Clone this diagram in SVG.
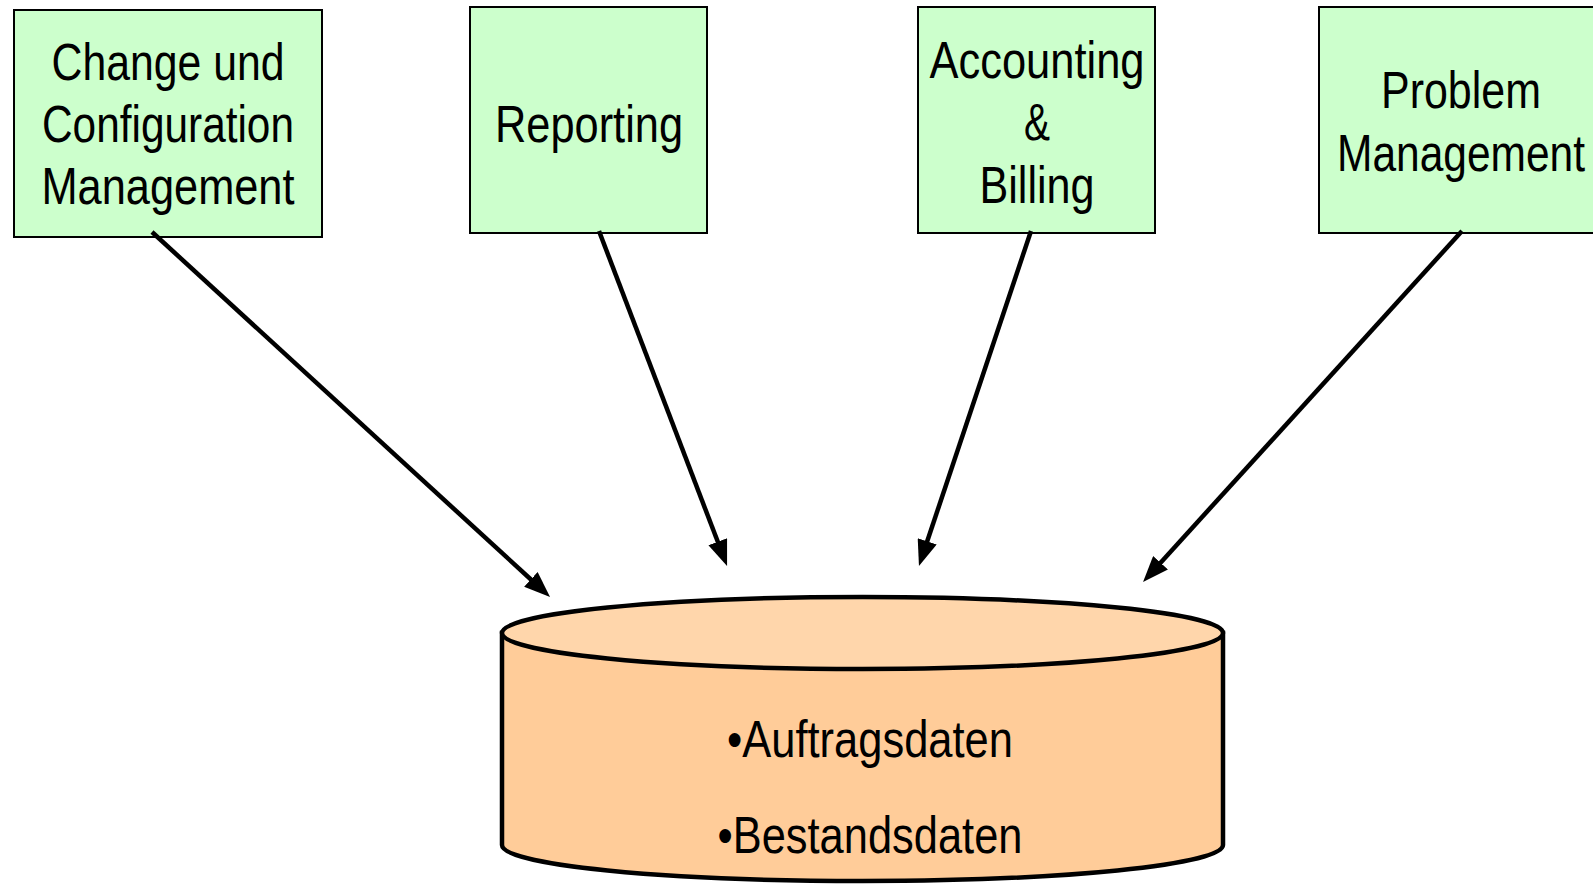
<svg xmlns="http://www.w3.org/2000/svg" width="1593" height="887" viewBox="0 0 1593 887">
<style>
.box{fill:#CCFFCC;stroke:#000;stroke-width:2}
.t{font-family:"Liberation Sans",Arial,sans-serif;font-size:52px;fill:#000;text-anchor:middle}
.conn{stroke:#000;stroke-width:4.5;fill:none;marker-end:url(#ah)}
.cyl{stroke:#000;stroke-width:4.5}
</style>
<defs>
<marker id="ah" markerUnits="userSpaceOnUse" markerWidth="26" markerHeight="20" refX="6" refY="10" orient="auto" viewBox="0 0 26 20">
<path d="M0,0 L26,10 L0,20 z" fill="#000"/>
</marker>
</defs>
<rect width="1593" height="887" fill="#fff"/>
<g id="node-change">
<rect class="box" x="14" y="10" width="308" height="227"/>
<text class="t" x="168" y="80" textLength="233" lengthAdjust="spacingAndGlyphs">Change und</text>
<text class="t" x="168" y="142" textLength="252" lengthAdjust="spacingAndGlyphs">Configuration</text>
<text class="t" x="168" y="204" textLength="253" lengthAdjust="spacingAndGlyphs">Management</text>
</g>
<g id="node-reporting">
<rect class="box" x="470" y="7" width="237" height="226"/>
<text class="t" x="589" y="142" textLength="188" lengthAdjust="spacingAndGlyphs">Reporting</text>
</g>
<g id="node-accounting">
<rect class="box" x="918" y="7" width="237" height="226"/>
<text class="t" x="1037" y="78" textLength="215" lengthAdjust="spacingAndGlyphs">Accounting</text>
<text class="t" x="1037" y="140" textLength="26" lengthAdjust="spacingAndGlyphs">&amp;</text>
<text class="t" x="1037" y="203" textLength="115" lengthAdjust="spacingAndGlyphs">Billing</text>
</g>
<g id="node-problem">
<rect class="box" x="1319" y="7" width="300" height="226"/>
<text class="t" x="1461" y="108" textLength="160" lengthAdjust="spacingAndGlyphs">Problem</text>
<text class="t" x="1461" y="171" textLength="248" lengthAdjust="spacingAndGlyphs">Management</text>
</g>
<g id="node-db">
<path class="cyl" fill="#FFCC99" d="M502,633 L502,845 A360.5,36 0 0 0 1223,845 L1223,633 Z"/>
<ellipse class="cyl" fill="#FFD6AB" cx="862.5" cy="633" rx="360.5" ry="36"/>
<text class="t" x="870" y="757" textLength="286" lengthAdjust="spacingAndGlyphs">•Auftragsdaten</text>
<text class="t" x="870" y="853" textLength="305" lengthAdjust="spacingAndGlyphs">•Bestandsdaten</text>
</g>
<g id="connectors">
<line class="conn" x1="152" y1="232" x2="535.3" y2="583.5"/>
<line class="conn" x1="599" y1="231" x2="719.9" y2="547.3"/>
<line class="conn" x1="1031" y1="231" x2="925.3" y2="547.0"/>
<line class="conn" x1="1462" y1="231" x2="1156.5" y2="567.2"/>
</g>
</svg>
